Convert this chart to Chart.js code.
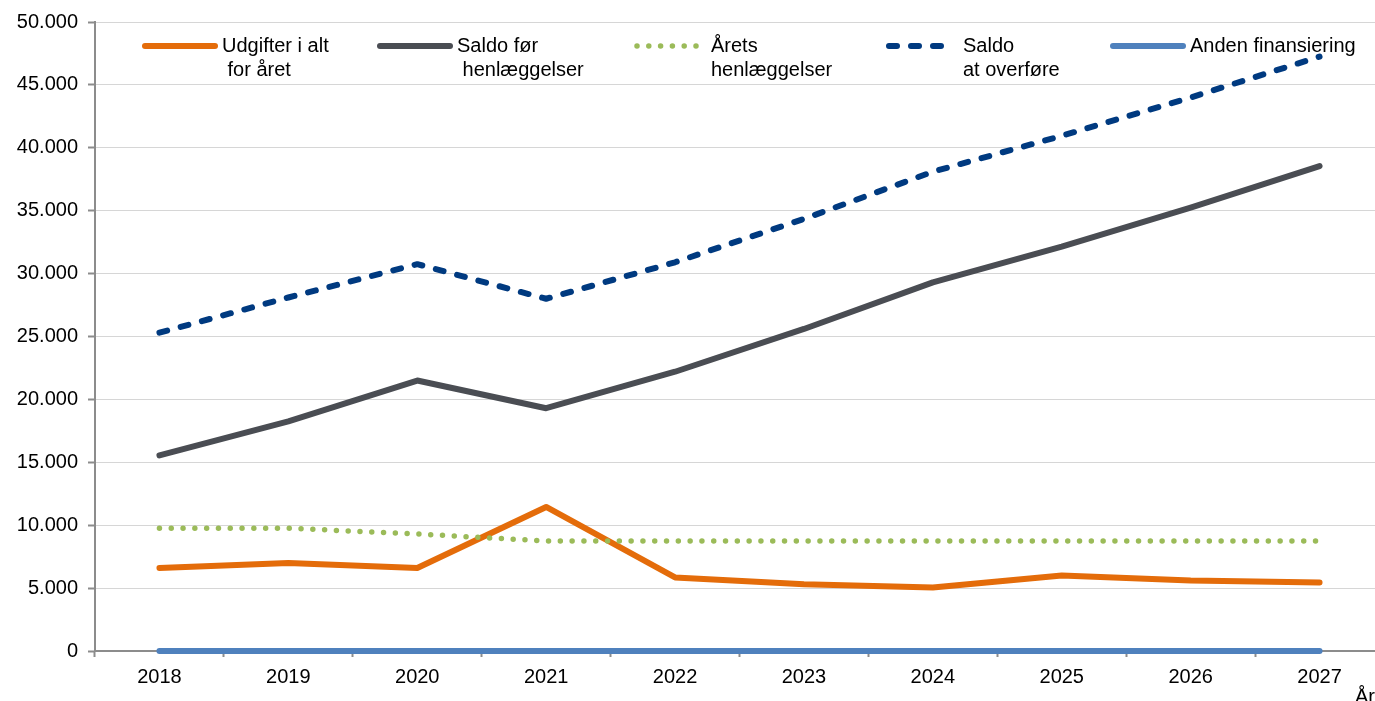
<!DOCTYPE html>
<html>
<head>
<meta charset="utf-8">
<script src="https://cdn.jsdelivr.net/npm/chart.js@4.4.1/dist/chart.umd.min.js"></script>
<style>
  html, body { margin: 0; padding: 0; background: #fff; overflow: hidden; }
  #wrap { width: 1400px; height: 701px; }
</style>
</head>
<body>
<div id="wrap"><canvas id="chart" width="1400" height="701"></canvas></div>
<script>
// data
const years = ['2018', '2019', '2020', '2021', '2022', '2023', '2024', '2025', '2026', '2027'];
const udgifter = [6600, 7000, 6600, 11450, 5850, 5300, 5050, 6000, 5600, 5450];
const saldoFoer = [15550, 18250, 21500, 19300, 22200, 25600, 29300, 32150, 35250, 38550];
const aaretsHenlaeggelser = [9760, 9760, 9300, 8750, 8750, 8750, 8750, 8750, 8750, 8750];
const saldoOverfoere = [25300, 28100, 30750, 28000, 30900, 34350, 38100, 40950, 44000, 47250];
const andenFinansiering = [0, 0, 0, 0, 0, 0, 0, 0, 0, 0];
const seriesNames = [
  ['Udgifter i alt', ' for året'],
  ['Saldo før', ' henlæggelser'],
  ['Årets', 'henlæggelser'],
  ['Saldo', 'at overføre'],
  ['Anden finansiering']
];
const yMin = 0, yMax = 50000, yStep = 5000;
const xTitle = 'År';

const FONT = '"Liberation Sans", Arial, sans-serif';
Chart.defaults.font.family = FONT;
Chart.defaults.font.size = 20;
Chart.defaults.color = '#000';

// thousands with a dot, like 50.000
const fmt = v => String(v).replace(/\B(?=(\d{3})+(?!\d))/g, '.');

// legend sits inside the plot, two text lines per item
const legendSpots = [
  { sample: 145, len: 70, text: 222 },
  { sample: 380, len: 70, text: 457 },
  { sample: 637, len: 60, text: 711 },
  { sample: 889, len: 58, text: 963 },
  { sample: 1113, len: 70, text: 1190 }
];
const lineLegend = {
  id: 'lineLegend',
  beforeDatasetsDraw(chart) {
    const ctx = chart.ctx;
    chart.data.datasets.forEach((ds, i) => {
      const spot = legendSpots[i];
      const y = 46;
      ctx.save();
      ctx.strokeStyle = ds.borderColor;
      ctx.lineWidth = ds.borderWidth;
      ctx.lineCap = ds.borderCapStyle;
      ctx.setLineDash(ds.borderDash || []);
      ctx.beginPath();
      ctx.moveTo(spot.sample, y);
      ctx.lineTo(spot.sample + spot.len, y);
      ctx.stroke();
      ctx.setLineDash([]);
      ctx.fillStyle = '#000';
      ctx.font = '20px ' + FONT;
      ctx.textAlign = 'left';
      ctx.textBaseline = 'middle';
      ds.label.forEach((line, k) => ctx.fillText(line, spot.text, y + k * 24));
      ctx.restore();
    });
  },
  afterDraw(chart) {
    // axis name sits low at the far right, partly cut by the edge
    const ctx = chart.ctx;
    ctx.save();
    ctx.fillStyle = '#000';
    ctx.font = '20px ' + FONT;
    ctx.textAlign = 'left';
    ctx.textBaseline = 'alphabetic';
    ctx.fillText(xTitle, 1355, 703);
    ctx.restore();
  }
};

const mkLine = (label, data, color, extra, order) => Object.assign({
  label: label,
  data: data,
  borderColor: color,
  backgroundColor: color,
  borderWidth: 6,
  borderCapStyle: 'round',
  borderJoinStyle: 'round',
  pointRadius: 0,
  tension: 0,
  fill: false,
  clip: false,
  order: order
}, extra);

new Chart(document.getElementById('chart'), {
  type: 'line',
  data: {
    labels: years,
    datasets: [
      mkLine(seriesNames[0], udgifter, '#E46C0A', {}, 4),
      mkLine(seriesNames[1], saldoFoer, '#4A4D53', {}, 3),
      mkLine(seriesNames[2], aaretsHenlaeggelser, '#9BBB59', { borderDash: [0, 11.8], borderWidth: 5.5 }, 2),
      mkLine(seriesNames[3], saldoOverfoere, '#003A80', { borderDash: [8, 14] }, 1),
      mkLine(seriesNames[4], andenFinansiering, '#4F81BD', {}, 0)
    ]
  },
  options: {
    responsive: false,
    animation: false,
    devicePixelRatio: 1,
    layout: { padding: { top: 21, right: 16, left: 0, bottom: 0 } },
    plugins: {
      legend: { display: false },
      tooltip: { enabled: false }
    },
    scales: {
      x: {
        offset: true,
        afterFit: s => { s.height = 50; },
        grid: {
          offset: true,
          drawOnChartArea: false,
          tickLength: 6,
          tickColor: '#8C8C8C',
          tickWidth: 2
        },
        border: { color: '#8C8C8C', width: 2 },
        ticks: { padding: 8, maxRotation: 0, font: { size: 20 } }
      },
      y: {
        min: yMin,
        max: yMax,
        afterFit: s => { s.width = 95; },
        grid: {
          color: '#D6D6D6',
          lineWidth: 1,
          tickLength: 7,
          tickColor: '#8C8C8C',
          tickWidth: 2
        },
        border: { color: '#8C8C8C', width: 2 },
        ticks: {
          stepSize: yStep,
          padding: 10,
          font: { size: 20 },
          callback: v => fmt(v)
        }
      }
    }
  },
  plugins: [lineLegend]
});
</script>
</body>
</html>
